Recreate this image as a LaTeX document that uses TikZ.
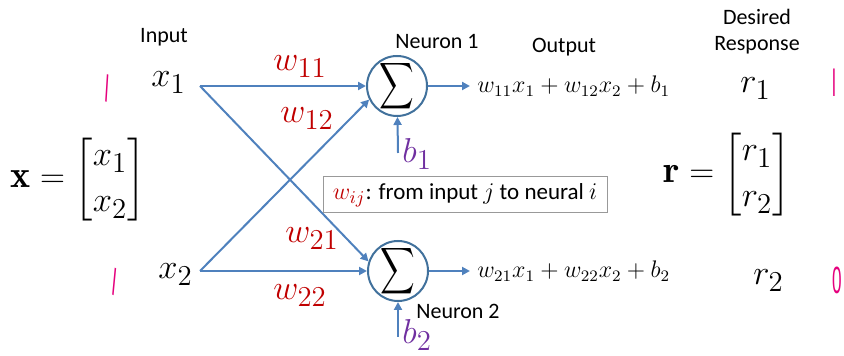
\documentclass[tikz,border=0pt]{standalone}
\usepackage{amsmath}
\usepackage{graphicx}
\usepackage{fontspec}
\setsansfont{Carlito}
\newfontfamily\penfont{Liberation Sans}
\usetikzlibrary{arrows.meta}
\definecolor{wire}{HTML}{4F81BD}
\definecolor{rim}{HTML}{41719C}
\definecolor{wred}{HTML}{C00000}
\definecolor{bpurple}{HTML}{7030A0}
\definecolor{pen}{HTML}{E5007D}
\newcommand{\bigmath}{\fontsize{19}{23}\selectfont}
\newcommand{\outmath}{\fontsize{11.5}{14}\selectfont}
\newcommand{\sumsign}{\fontsize{12}{14}\selectfont\scalebox{1}[1.35]{$\displaystyle\sum$}}

\begin{document}
\begin{tikzpicture}[x=0.5pt, y=-0.5pt, >={Triangle[length=4pt,width=4pt]},
  lbl/.style={font=\sffamily\fontsize{11}{13}\selectfont, align=center, inner sep=0pt},
  sym/.style={font=\bigmath, inner sep=0pt},
  neuron/.style={circle, draw=rim, line width=1pt, minimum size=30pt, inner sep=0pt,
                 label={[inner sep=0pt]center:\sumsign}},
  flow/.style={->, draw=wire, line width=1pt},
  penmark/.style={text=pen, font=\penfont\fontsize{19}{19}\selectfont, inner sep=0pt, xscale=0.45}]
\useasboundingbox (0,0) rectangle (844,356);
% -- inputs
\node[lbl] (inp) at (164,37) {Input};
\node[sym, anchor=base west] (x1) at (151,87) {$x_1$};
\node[sym, anchor=base west] (x2) at (158,279) {$x_2$};
\coordinate (x1r) at (200,86);
\coordinate (x2r) at (200,271);
% -- neurons
\node[neuron] (n1) at (397,86) {};
\node[neuron] (n2) at (398,271) {};
\node[lbl] (l1) at (437,42) {Neuron 1};
\node[lbl] (l2) at (458,311) {Neuron 2};
\draw[flow] (x1r) -- (n1);
\draw[flow] (x2r) -- (n2);
\draw[flow] (x1r) -- (n2.162);
\draw[flow] (x2r) -- (n1.206);
% -- weights
\node[sym, anchor=base west, text=wred] (w11) at (273,71) {$w_{11}$};
\node[sym, anchor=base west, text=wred] (w12) at (280,123) {$w_{12}$};
\node[sym, anchor=base west, text=wred] (w21) at (285,243) {$w_{21}$};
\node[sym, anchor=base west, text=wred] (w22) at (273,300) {$w_{22}$};
% -- biases
\node[sym, anchor=base west, text=bpurple] (b1) at (402,163) {$b_1$};
\node[sym, anchor=base west, text=bpurple] (b2) at (402,344) {$b_2$};
\coordinate (b1s) at (398,153);
\coordinate (b2s) at (398,337);
\draw[flow] (b1s) -- (n1);
\draw[flow] (b2s) -- (n2);
% -- outputs
\node[lbl] (outl) at (564,47) {Output};
\node[font=\outmath, anchor=base west, inner sep=0pt] (o1) at (477,93) {$w_{11}x_1 + w_{12}x_2 + b_1$};
\node[font=\outmath, anchor=base west, inner sep=0pt] (o2) at (477,278) {$w_{21}x_1 + w_{22}x_2 + b_2$};
\coordinate (o1l) at (470,86);
\coordinate (o2l) at (470,271);
\draw[flow] (n1) -- (o1l);
\draw[flow] (n2) -- (o2l);
% -- desired response
\node[lbl] (des) at (757,32) {Desired\\Response};
\node[sym, anchor=base west] (r1) at (740,93) {$r_1$};
\node[sym, anchor=base west] (r2) at (753,285) {$r_2$};
% -- note box
\node[lbl, font=\sffamily\fontsize{11.5}{13}\selectfont, draw=gray!80, line width=0.5pt, fill=white,
  minimum width=142pt, minimum height=18pt]
  (note) at (465,195) {\textcolor{wred}{\fontsize{13}{13}\selectfont$w_{ij}$}: from input $j$ to neural $i$};
% -- vectors
\node[sym, anchor=base west] (xv) at (10,188) {$\mathbf{x}=\begin{bmatrix}x_1\\x_2\end{bmatrix}$};
\node[sym, anchor=base west] (rv) at (663,183) {$\mathbf{r}=\begin{bmatrix}r_1\\r_2\end{bmatrix}$};
% -- pen marks
\node[penmark, rotate=-8] (p1) at (107,88) {l};
\node[penmark, rotate=-12] (p2) at (115,282) {l};
\node[penmark] (p3) at (834,83) {l};
\node[penmark] (p4) at (837,280) {0};
\end{tikzpicture}
\end{document}
